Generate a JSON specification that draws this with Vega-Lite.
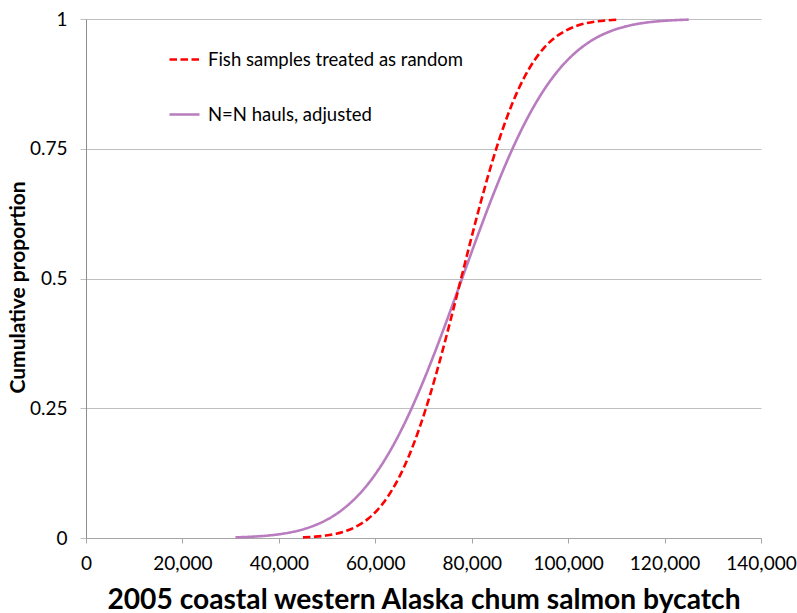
{
  "$schema": "https://vega.github.io/schema/vega-lite/v6.json",
  "width": 675,
  "height": 519,
  "autosize": "none",
  "padding": {"left": 86, "top": 19, "right": 36, "bottom": 75},
  "background": "white",
  "config": {
    "view": {"stroke": null},
    "font": "Lato"
  },
  "data": {
    "values": [
      {"series": "N=N hauls, adjusted", "x": 31000, "p": 0.0012},
      {"series": "N=N hauls, adjusted", "x": 34600, "p": 0.0026},
      {"series": "N=N hauls, adjusted", "x": 37700, "p": 0.0047},
      {"series": "N=N hauls, adjusted", "x": 40800, "p": 0.0082},
      {"series": "N=N hauls, adjusted", "x": 43900, "p": 0.0139},
      {"series": "N=N hauls, adjusted", "x": 47000, "p": 0.0228},
      {"series": "N=N hauls, adjusted", "x": 50100, "p": 0.0359},
      {"series": "N=N hauls, adjusted", "x": 53200, "p": 0.0548},
      {"series": "N=N hauls, adjusted", "x": 56300, "p": 0.0808},
      {"series": "N=N hauls, adjusted", "x": 59400, "p": 0.1151},
      {"series": "N=N hauls, adjusted", "x": 62500, "p": 0.1587},
      {"series": "N=N hauls, adjusted", "x": 65600, "p": 0.2119},
      {"series": "N=N hauls, adjusted", "x": 68700, "p": 0.2743},
      {"series": "N=N hauls, adjusted", "x": 71800, "p": 0.3446},
      {"series": "N=N hauls, adjusted", "x": 74900, "p": 0.4207},
      {"series": "N=N hauls, adjusted", "x": 78000, "p": 0.5},
      {"series": "N=N hauls, adjusted", "x": 81100, "p": 0.5793},
      {"series": "N=N hauls, adjusted", "x": 84200, "p": 0.6554},
      {"series": "N=N hauls, adjusted", "x": 87300, "p": 0.7257},
      {"series": "N=N hauls, adjusted", "x": 90400, "p": 0.7881},
      {"series": "N=N hauls, adjusted", "x": 93500, "p": 0.8413},
      {"series": "N=N hauls, adjusted", "x": 96600, "p": 0.8849},
      {"series": "N=N hauls, adjusted", "x": 99700, "p": 0.9192},
      {"series": "N=N hauls, adjusted", "x": 102800, "p": 0.9452},
      {"series": "N=N hauls, adjusted", "x": 105900, "p": 0.9641},
      {"series": "N=N hauls, adjusted", "x": 109000, "p": 0.9772},
      {"series": "N=N hauls, adjusted", "x": 112100, "p": 0.9861},
      {"series": "N=N hauls, adjusted", "x": 115200, "p": 0.9918},
      {"series": "N=N hauls, adjusted", "x": 118300, "p": 0.9953},
      {"series": "N=N hauls, adjusted", "x": 121400, "p": 0.9974},
      {"series": "N=N hauls, adjusted", "x": 125000, "p": 0.9988},
      {"series": "Fish samples treated as random", "x": 45000, "p": 0.0012},
      {"series": "Fish samples treated as random", "x": 47560, "p": 0.0026},
      {"series": "Fish samples treated as random", "x": 49720, "p": 0.0047},
      {"series": "Fish samples treated as random", "x": 51880, "p": 0.0082},
      {"series": "Fish samples treated as random", "x": 54040, "p": 0.0139},
      {"series": "Fish samples treated as random", "x": 56200, "p": 0.0228},
      {"series": "Fish samples treated as random", "x": 58360, "p": 0.0359},
      {"series": "Fish samples treated as random", "x": 60520, "p": 0.0548},
      {"series": "Fish samples treated as random", "x": 62680, "p": 0.0808},
      {"series": "Fish samples treated as random", "x": 64840, "p": 0.1151},
      {"series": "Fish samples treated as random", "x": 67000, "p": 0.1587},
      {"series": "Fish samples treated as random", "x": 69160, "p": 0.2119},
      {"series": "Fish samples treated as random", "x": 71320, "p": 0.2743},
      {"series": "Fish samples treated as random", "x": 73480, "p": 0.3446},
      {"series": "Fish samples treated as random", "x": 75640, "p": 0.4207},
      {"series": "Fish samples treated as random", "x": 77800, "p": 0.5},
      {"series": "Fish samples treated as random", "x": 79960, "p": 0.5793},
      {"series": "Fish samples treated as random", "x": 82120, "p": 0.6554},
      {"series": "Fish samples treated as random", "x": 84280, "p": 0.7257},
      {"series": "Fish samples treated as random", "x": 86440, "p": 0.7881},
      {"series": "Fish samples treated as random", "x": 88600, "p": 0.8413},
      {"series": "Fish samples treated as random", "x": 90760, "p": 0.8849},
      {"series": "Fish samples treated as random", "x": 92920, "p": 0.9192},
      {"series": "Fish samples treated as random", "x": 95080, "p": 0.9452},
      {"series": "Fish samples treated as random", "x": 97240, "p": 0.9641},
      {"series": "Fish samples treated as random", "x": 99400, "p": 0.9772},
      {"series": "Fish samples treated as random", "x": 101560, "p": 0.9861},
      {"series": "Fish samples treated as random", "x": 103720, "p": 0.9918},
      {"series": "Fish samples treated as random", "x": 105880, "p": 0.9953},
      {"series": "Fish samples treated as random", "x": 108040, "p": 0.9974},
      {"series": "Fish samples treated as random", "x": 110700, "p": 0.9989}
    ]
  },
  "mark": {"type": "line", "interpolate": "monotone", "strokeWidth": 2.6},
  "encoding": {
    "x": {
      "field": "x",
      "type": "quantitative",
      "scale": {"domain": [0, 140000], "nice": false},
      "axis": {
        "values": [0, 20000, 40000, 60000, 80000, 100000, 120000, 140000],
        "format": ",.0f",
        "grid": false,
        "domainColor": "#a6a6a6",
        "domainWidth": 1,
        "tickColor": "#a6a6a6",
        "tickSize": 5,
        "labelFontSize": 19,
        "labelColor": "#000000",
        "labelPadding": 11,
        "labelFlush": false,
        "labelOverlap": false,
        "title": "2005 coastal western Alaska chum salmon bycatch",
        "titleFontSize": 28.2,
        "titleFontWeight": "bold",
        "titleColor": "#000000",
        "titleBaseline": "middle",
        "titleY": 62
      }
    },
    "y": {
      "field": "p",
      "type": "quantitative",
      "scale": {"domain": [0, 1], "nice": false},
      "axis": {
        "values": [0, 0.25, 0.5, 0.75, 1],
        "format": ".2~f",
        "grid": true,
        "gridColor": "#bfbfbf",
        "gridWidth": 1.2,
        "domainColor": "#8c8c8c",
        "domainWidth": 1,
        "tickColor": "#bfbfbf",
        "tickSize": 6,
        "labelFontSize": 19,
        "labelColor": "#000000",
        "labelPadding": 13,
        "labelFlush": false,
        "title": "Cumulative proportion",
        "titleFontSize": 21,
        "titleFontWeight": "bold",
        "titleColor": "#000000",
        "titleAngle": 270,
        "titleBaseline": "middle",
        "titleAlign": "center",
        "titleX": -68,
        "titleY": 268
      }
    },
    "color": {
      "field": "series",
      "type": "nominal",
      "scale": {
        "domain": ["Fish samples treated as random", "N=N hauls, adjusted"],
        "range": ["#ff0000", "#b87cbf"]
      },
      "legend": {
        "title": null,
        "orient": "none",
        "legendX": 82,
        "legendY": 24,
        "padding": 0,
        "symbolType": "stroke",
        "symbolSize": 900,
        "symbolStrokeWidth": 2.6,
        "labelFontSize": 18.5,
        "labelLimit": 500,
        "labelColor": "#000000",
        "labelOffset": 7,
        "rowPadding": 29
      }
    },
    "strokeDash": {
      "field": "series",
      "type": "nominal",
      "scale": {
        "domain": ["Fish samples treated as random", "N=N hauls, adjusted"],
        "range": [[7.5, 3.5], [1, 0]]
      },
      "legend": null
    }
  }
}
